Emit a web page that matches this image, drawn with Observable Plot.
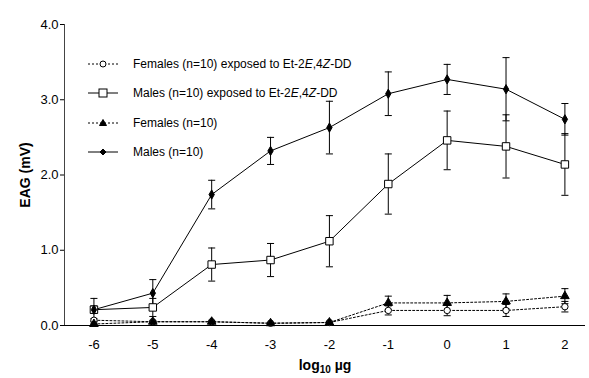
<!DOCTYPE html>
<html>
<head>
<meta charset="utf-8">
<script src="https://cdn.jsdelivr.net/npm/d3@7"></script>
<script src="https://cdn.jsdelivr.net/npm/@observablehq/plot@0.6"></script>
<style>
  body { margin: 0; background: #fff; }
  #wrap { position: relative; width: 589px; height: 378px; font-family: "Liberation Sans", Arial, sans-serif; }
  #legend { position: absolute; left: 88px; top: 49px; font-size: 12px; color: #000; }
  #legend .row { height: 29.5px; display: flex; align-items: center; white-space: nowrap; }
  #legend svg { width: 30px; height: 12px; margin-right: 15px; overflow: visible; }
  g[aria-label="y-axis label"] text, g[aria-label="x-axis label"] text { font-weight: bold; font-size: 14px; }
</style>
</head>
<body>
<div id="wrap"><div id="legend"></div></div>
<script>
const doses = [-6, -5, -4, -3, -2, -1, 0, 1, 2];
const doseLabels = ["-6", "-5", "-4", "-3", "-2", "-1", "0", "1", "2"];
const yTicks = [0, 1, 2, 3, 4];

const femalesExpMean = [0.07, 0.05, 0.05, 0.03, 0.04, 0.20, 0.20, 0.20, 0.25];
const femalesExpErr  = [0.02, 0.01, 0.01, 0.01, 0.01, 0.06, 0.07, 0.08, 0.07];
const malesExpMean   = [0.21, 0.24, 0.81, 0.87, 1.12, 1.88, 2.46, 2.38, 2.14];
const malesExpErr    = [0.05, 0.12, 0.22, 0.22, 0.34, 0.40, 0.39, 0.42, 0.41];
const femalesMean    = [0.02, 0.05, 0.05, 0.03, 0.04, 0.30, 0.30, 0.32, 0.39];
const femalesErr     = [0.01, 0.01, 0.01, 0.01, 0.01, 0.09, 0.10, 0.10, 0.10];
const malesMean      = [0.21, 0.43, 1.74, 2.32, 2.63, 3.08, 3.27, 3.14, 2.74];
const malesErr       = [0.15, 0.18, 0.19, 0.18, 0.35, 0.29, 0.20, 0.42, 0.21];

const seriesNames = [
  "Females (n=10) exposed to Et-2<i>E</i>,4<i>Z</i>-DD",
  "Males (n=10) exposed to Et-2<i>E</i>,4<i>Z</i>-DD",
  "Females (n=10)",
  "Males (n=10)"
];

const series = [
  {name: seriesNames[0], mean: femalesExpMean, err: femalesExpErr, symbol: "circle", fill: "white", dash: "2,2", r: 3.2},
  {name: seriesNames[1], mean: malesExpMean, err: malesExpErr, symbol: "square", fill: "white", dash: null, r: 4.2},
  {name: seriesNames[2], mean: femalesMean, err: femalesErr, symbol: "triangle", fill: "black", dash: "2,2", r: 3.2},
  {name: seriesNames[3], mean: malesMean, err: malesErr, symbol: "diamond", fill: "black", dash: null, r: 2.8}
];

const xDomain = [-6.5, 2.35];
const cap = 0.06;

const marks = [];
for (const s of series) {
  const rows = doses.map((x, i) => ({x, y: s.mean[i], lo: s.mean[i] - s.err[i], hi: s.mean[i] + s.err[i]}));
  marks.push(Plot.line(rows, {x: "x", y: "y", stroke: "black", strokeWidth: 1, strokeDasharray: s.dash}));
  marks.push(Plot.ruleX(rows, {x: "x", y1: "lo", y2: "hi", stroke: "black", strokeWidth: 1}));
  marks.push(Plot.link(rows, {x1: d => d.x - cap, x2: d => d.x + cap, y1: "hi", y2: "hi", stroke: "black", strokeWidth: 1}));
  marks.push(Plot.link(rows, {x1: d => d.x - cap, x2: d => d.x + cap, y1: "lo", y2: "lo", stroke: "black", strokeWidth: 1}));
}
for (const s of series) {
  const rows = doses.map((x, i) => ({x, y: s.mean[i]}));
  marks.push(Plot.dot(rows, {x: "x", y: "y", symbol: () => s.symbol, fill: s.fill, stroke: "black", strokeWidth: 1, r: s.r}));
}

const chart = Plot.plot({
  width: 589,
  height: 378,
  marginLeft: 64,
  marginRight: 4,
  marginTop: 24,
  marginBottom: 53,
  style: {fontFamily: "'Liberation Sans', Arial, sans-serif", fontSize: "13px", color: "#000", background: "white"},
  symbol: {type: "identity"},
  x: {domain: xDomain},
  y: {domain: [0, 4]},
  marks: [
    Plot.axisX({ticks: doses, tickFormat: (d, i) => doseLabels[i], tickSize: 0, tickPadding: 14, fontSize: 13,
      label: "log10 µg", labelAnchor: "center", labelArrow: "none", labelOffset: 44}),
    Plot.axisY({ticks: yTicks, tickFormat: d3.format(".1f"), tickSize: 4, tickPadding: 2, fontSize: 13,
      label: "EAG (mV)", labelAnchor: "center", labelArrow: "none", labelOffset: 44}),
    Plot.ruleX([xDomain[0]], {stroke: "#444", strokeWidth: 1}),
    Plot.ruleY([0], {stroke: "black", strokeWidth: 1.2}),
    ...marks
  ]
});
document.getElementById("wrap").prepend(chart);

// subscript in x label
const xl = chart.querySelector('g[aria-label="x-axis label"] text');
if (xl) {
  const ns = "http://www.w3.org/2000/svg";
  xl.textContent = "log";
  const sub = document.createElementNS(ns, "tspan");
  sub.setAttribute("font-size", "10px");
  sub.setAttribute("dy", "3");
  sub.textContent = "10";
  const rest = document.createElementNS(ns, "tspan");
  rest.setAttribute("dy", "-3");
  rest.textContent = " µg";
  xl.appendChild(sub);
  xl.appendChild(rest);
}

// Legend
const legend = document.getElementById("legend");
const symPath = {
  circle: '<circle cx="15" cy="6" r="3" fill="white" stroke="black"/>',
  square: '<rect x="11" y="2" width="8" height="8" fill="white" stroke="black"/>',
  triangle: '<path d="M15,2.5 L18.5,8.5 L11.5,8.5 Z" fill="black" stroke="black"/>',
  diamond: '<path d="M15,3 L18,6 L15,9 L12,6 Z" fill="black" stroke="black"/>'
};
for (const s of series) {
  const row = document.createElement("div");
  row.className = "row";
  const dash = s.dash ? ` stroke-dasharray="${s.dash}"` : "";
  row.innerHTML = `<svg viewBox="0 0 30 12"><line x1="0" y1="6" x2="30" y2="6" stroke="black"${dash}/>${symPath[s.symbol]}</svg><span>${s.name}</span>`;
  legend.appendChild(row);
}
</script>
</body>
</html>
